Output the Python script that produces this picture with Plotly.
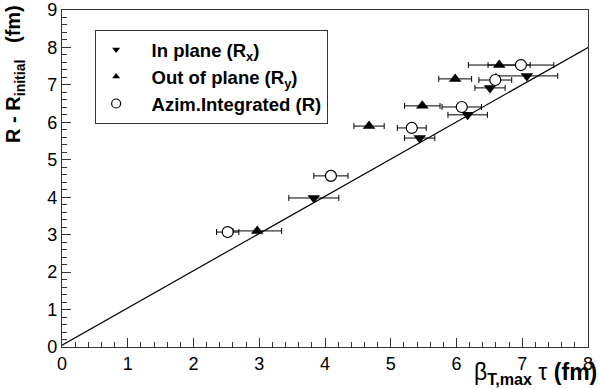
import plotly.graph_objects as go

# Out of plane (R_y)
out_x = [2.97, 4.67, 5.48, 5.98, 6.65]
out_y = [3.10, 5.90, 6.44, 7.16, 7.53]
out_ex = [0.37, 0.23, 0.27, 0.25, 0.47]

# In plane (R_x)
in_x = [3.83, 5.44, 6.17, 6.51, 7.07]
in_y = [3.98, 5.58, 6.20, 6.92, 7.24]
in_ex = [0.38, 0.23, 0.30, 0.23, 0.47]

# Azim. integrated (R)
az_x = [2.52, 4.09, 5.32, 6.08, 6.59, 6.98]
az_y = [3.07, 4.57, 5.85, 6.41, 7.13, 7.53]
az_ex = [0.17, 0.26, 0.22, 0.30, 0.25, 0.50]

# Reference line
line_x = [0, 8]
line_y = [0.05, 8.0]

FONT = "Liberation Sans, Arial, sans-serif"
PAD = "&nbsp;&nbsp;&nbsp;"

fig = go.Figure()
fig.add_trace(go.Scatter(x=line_x, y=line_y, mode="lines",
                         line=dict(color="black", width=1.2), showlegend=False,
                         hoverinfo="skip"))

def err(e):
    return dict(type="data", array=e, visible=True, color="black", thickness=1, width=3)

series = [
    (in_x, in_y, in_ex, "<b>In plane (R<sub>x</sub>)</b>",
     dict(symbol="triangle-down", color="black"), "a"),
    (out_x, out_y, out_ex, "<b>Out of plane (R<sub>y</sub>)</b>",
     dict(symbol="triangle-up", color="black"), "b"),
    (az_x, az_y, az_ex, "<b>Azim.Integrated (R)</b>",
     dict(symbol="circle", color="white", line=dict(color="black", width=1.2)), "c"),
]

for xs, ys, ex, name, mk, grp in series:
    fig.add_trace(go.Scatter(x=xs, y=ys, mode="markers", name=name,
                             marker=dict(size=11, **mk), error_x=err(ex),
                             showlegend=False, legendgroup=grp))
    # legend-only entry with smaller symbol
    fig.add_trace(go.Scatter(x=[None], y=[None], mode="markers", name=PAD + name,
                             marker=dict(size=7 if grp != "c" else 9, **mk),
                             showlegend=True, legendgroup=grp))

axis_common = dict(showline=True, linecolor="#333", linewidth=1.2, mirror=True,
                   ticks="inside", ticklen=9, tickcolor="#333", showgrid=False,
                   zeroline=False, automargin=False,
                   tickfont=dict(family=FONT, size=18, color="black"))

fig.update_xaxes(range=[0, 8], dtick=1, tick0=0,
                 minor=dict(ticks="inside", ticklen=5, dtick=0.2, tickcolor="#333", showgrid=False),
                 **axis_common)
fig.update_yaxes(range=[0, 9], dtick=1, tick0=0,
                 minor=dict(ticks="inside", ticklen=5, dtick=0.2, tickcolor="#333", showgrid=False),
                 **axis_common)

fig.add_annotation(xref="paper", yref="paper", x=-0.09, y=1.02, xanchor="center", yanchor="top",
                   text="<b>R - R<sub>initial</sub>&nbsp;&nbsp;&nbsp;(fm)</b>", textangle=-90,
                   showarrow=False, font=dict(family=FONT, size=20, color="black"))
fig.add_annotation(xref="paper", yref="paper", x=1.02, y=-0.08, xanchor="right", yanchor="middle",
                   text="β<sub><b>T,max</b></sub> τ <b>(fm)</b>", showarrow=False,
                   font=dict(family=FONT, size=23, color="black"))

fig.update_layout(
    width=600, height=389,
    margin=dict(l=62, r=12, t=10, b=42, autoexpand=False),
    paper_bgcolor="white", plot_bgcolor="white",
    showlegend=True,
    legend=dict(x=0.063, y=0.941, xanchor="left", yanchor="top",
                bordercolor="#333", borderwidth=1, bgcolor="white",
                font=dict(family=FONT, size=18.5, color="black"),
                tracegroupgap=0, itemwidth=30),
)

fig.write_html("out.html", config={"displayModeBar": False},
               post_script="document.body.style.margin='0';")
